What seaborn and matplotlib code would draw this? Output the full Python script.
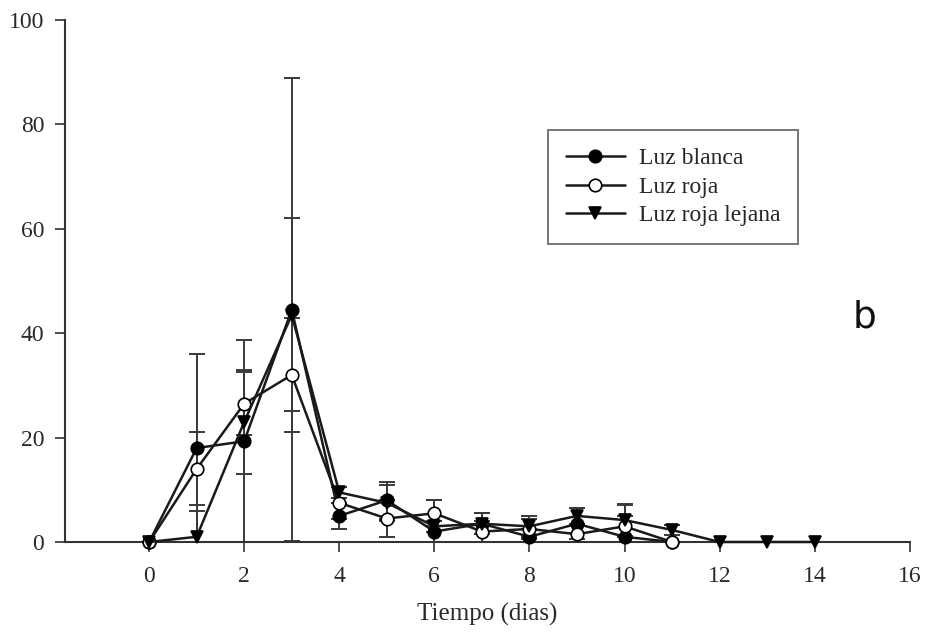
import numpy as np
import pandas as pd
import matplotlib
matplotlib.use("Agg")
import matplotlib.pyplot as plt
import seaborn as sns

# ---- data ----
days_b = [0, 1, 2, 3, 4, 5, 6, 7, 8, 9, 10, 11]
blanca = [0, 18, 19.3, 44.5, 5, 8, 2, 3.5, 1, 3.5, 1, 0]
blanca_err = [0, 18, 19.3, 44.3, 2.5, 3.5, 6, 2, 1.5, 3, 6, 0]

days_r = [0, 1, 2, 3, 4, 5, 6, 7, 8, 9, 10, 11]
roja = [0, 14, 26.5, 32, 7.5, 4.5, 5.5, 2, 2.5, 1.5, 3, 0]
roja_err = [0, 7, 6, 11, 3, 3.5, 2.5, 2, 2, 2, 2, 0]

days_l = [0, 1, 2, 3, 4, 5, 6, 7, 8, 9, 10, 11, 12, 13, 14]
lejana = [0, 1, 23, 43.5, 9.5, 7.5, 3, 3.5, 3, 5, 4.2, 2.3, 0, 0, 0]
lejana_err = [0, 5, 10, 18.5, 1, 3.5, 1, 2, 2, 1.5, 3, 1, 0, 0, 0]

labels = ["Luz blanca", "Luz roja", "Luz roja lejana"]
xticks = [0, 2, 4, 6, 8, 10, 12, 14, 16]
yticks = [0, 20, 40, 60, 80, 100]

sns.set_style("ticks")
plt.rcParams['font.family'] = ['Liberation Serif', 'DejaVu Serif']

fig = plt.figure(figsize=(9.34, 6.36), dpi=100)
ax = fig.add_axes([0.0696, 0.1478, 0.9044, 0.8208])

series = [
    (days_b, blanca, blanca_err, labels[0], 'o', 'black'),
    (days_r, roja, roja_err, labels[1], 'o', 'white'),
    (days_l, lejana, lejana_err, labels[2], 'v', 'black'),
]

lc = '#1a1a1a'
for x, y, e, lab, m, fc in series:
    ax.errorbar(x, y, yerr=e, fmt='none', ecolor='#3a3a3a', elinewidth=1.4,
                capsize=6, capthick=1.4, zorder=2)
    df = pd.DataFrame({"x": x, "y": y})
    sns.lineplot(data=df, x="x", y="y", ax=ax, color=lc, linewidth=1.8,
                 marker=m, markersize=9, markerfacecolor=fc,
                 markeredgecolor='black', markeredgewidth=1.2,
                 label=lab, zorder=3, clip_on=False)

ax.set_xlim(-1.77, 16)
ax.set_ylim(0, 100)
ax.set_xticks(xticks)
ax.set_yticks(yticks)
ax.tick_params(axis='both', labelsize=17, length=7, width=1.2, colors='#333333',
               labelcolor='#2a2a2a', direction='out')
ax.tick_params(axis='x', pad=10)
ax.tick_params(axis='y', pad=8)
for s in ['top', 'right']:
    ax.spines[s].set_visible(False)
for s in ['left', 'bottom']:
    ax.spines[s].set_linewidth(1.5)
    ax.spines[s].set_color('#333333')

ax.set_xlabel("Tiempo (dias)", fontsize=18, color='#2a2a2a', labelpad=12)
ax.set_ylabel("")

leg = ax.legend(loc='upper left', bbox_to_anchor=(548/934, 1 - 130/636),
                bbox_transform=fig.transFigure, fontsize=17, frameon=True,
                fancybox=False, edgecolor='#555555', handlelength=2.5,
                borderpad=0.75, labelspacing=0.3, handletextpad=0.6,
                borderaxespad=0)
leg.get_frame().set_linewidth(1.4)

fig.text(865/934, 1 - 318/636, "b", fontsize=27, family='DejaVu Sans',
         ha='center', va='center', color='#111111')

fig.savefig("out.png", dpi=100)
